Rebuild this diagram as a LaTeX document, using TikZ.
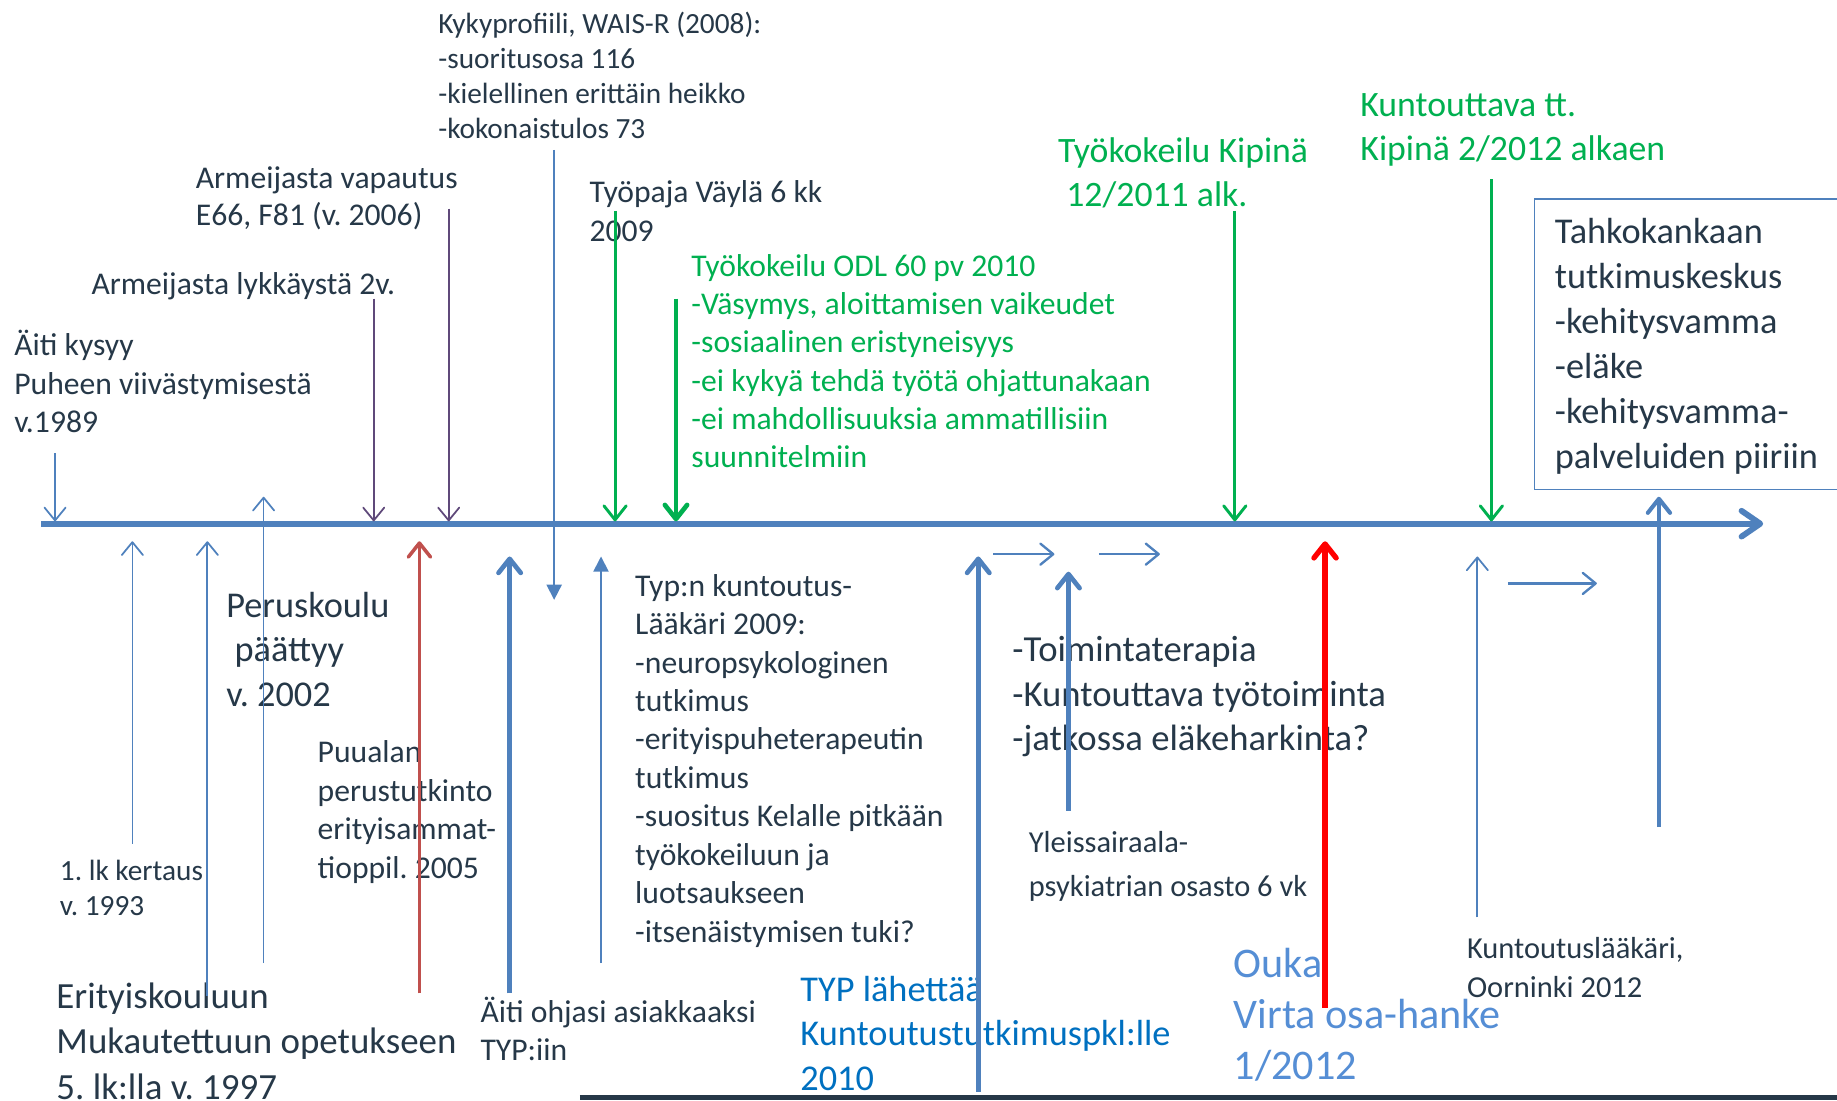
\documentclass[tikz,border=0pt]{standalone}
\usepackage{fontspec}
\setmainfont{Carlito}
\usetikzlibrary{arrows.meta}
\definecolor{darktxt}{RGB}{38,56,72}
\definecolor{lineblue}{RGB}{79,129,189}
\definecolor{kgreen}{RGB}{0,176,80}
\definecolor{darkpurple}{RGB}{95,73,122}
\definecolor{darkred}{RGB}{192,80,77}
\definecolor{typblue}{RGB}{0,112,192}
\definecolor{oukablue}{RGB}{85,142,213}
\frenchspacing

\begin{document}
\begin{tikzpicture}[x=1pt,y=-1pt,
    lbl/.style={anchor=north west,inner sep=0,align=left,text=darktxt},
    fs/.style 2 args={font=\fontsize{#1}{#2}\selectfont},
    thinarr/.style={line width=1.5pt,-{Straight Barb[length=11pt,width=18pt,round]}},
    midarr/.style={line width=2.5pt,-{Straight Barb[length=12pt,width=19pt,round]}},
    thickarr/.style={line width=4pt,-{Straight Barb[length=12pt,width=19pt,round]}},
    triarr/.style={line width=1.5pt,-{Triangle[length=13pt,width=13pt]}}]
        \useasboundingbox (0,0) rectangle (1568,939);
        % time axis
        \draw[lineblue,line width=5pt,-{Straight Barb[length=16pt,width=22pt,round]}] (35,447) -- (1505,447);
        \draw[darktxt,line width=4pt] (495,937) -- (1568,937);
        % labels above the axis
        \node[lbl,fs={25}{30}] (kyky) at (374,10) {Kykyprofiili, WAIS-R (2008):\\-suoritusosa 116\\-kielellinen erittäin heikko\\-kokonaistulos 73};
        \node[lbl,fs={27}{32}] (armvap) at (167,142) {Armeijasta vapautus\\E66, F81 (v. 2006)};
        \node[lbl,fs={27}{32}] (armlyk) at (78,232) {Armeijasta lykkäystä 2v.};
        \node[lbl,fs={27}{32.5}] (aiti) at (12,282) {Äiti kysyy\\Puheen viivästymisestä\\v.1989};
        \node[lbl,fs={27}{33}] (tyopaja) at (503,154) {Työpaja Väylä 6 kk\\2009};
        \node[lbl,fs={27}{32.6},text=kgreen] (odl) at (590,217) {Työkokeilu ODL 60 pv 2010\\-Väsymys, aloittamisen vaikeudet\\-sosiaalinen eristyneisyys\\-ei kykyä tehdä työtä ohjattunakaan\\-ei mahdollisuuksia ammatillisiin\\suunnitelmiin};
        \node[lbl,fs={30.5}{38},text=kgreen] (kipina) at (903,117) {Työkokeilu Kipinä\\\hspace{7pt}12/2011 alk.};
        \node[lbl,fs={30.5}{37.5},text=kgreen] (kuntt) at (1161,80) {Kuntouttava tt.\\Kipinä 2/2012 alkaen};
        \draw[lineblue,line width=1.2pt] (1310,170) rectangle (1580,418);
        \node[lbl,fs={31}{38.5}] (tahko) at (1327,186) {Tahkokankaan\\tutkimuskeskus\\-kehitysvamma\\-eläke\\-kehitysvamma-\\palveluiden piiriin};
        % labels below the axis
        \node[lbl,fs={31}{38}] (perus) at (193,505) {Peruskoulu\\\hspace{7pt}päättyy\\v. 2002};
        \node[lbl,fs={27}{33}] (puu) at (271,632) {Puualan\\perustutkinto\\erityisammat-\\tioppil. 2005};
        \node[lbl,fs={25}{30}] (kertaus) at (51,734) {1. lk kertaus\\v. 1993};
        \node[lbl,fs={31.5}{38.5}] (erit) at (48,839) {Erityiskouluun\\Mukautettuun opetukseen\\5. lk:lla v. 1997};
        \node[lbl,fs={27}{32}] (ohjasi) at (410,851) {Äiti ohjasi asiakkaaksi\\TYP:iin};
        \node[lbl,fs={27}{32.8}] (typn) at (542,490) {Typ:n kuntoutus-\\Lääkäri 2009:\\-neuropsykologinen\\tutkimus\\-erityispuheterapeutin\\tutkimus\\-suositus Kelalle pitkään\\työkokeiluun ja\\luotsaukseen\\-itsenäistymisen tuki?};
        \node[lbl,fs={31}{38},text=typblue] (typlah) at (683,833) {TYP lähettää\\Kuntoutustutkimuspkl:lle\\2010};
        \node[lbl,fs={31.3}{38}] (toim) at (864,543) {-Toimintaterapia\\-Kuntouttava työtoiminta\\-jatkossa eläkeharkinta?};
        \node[lbl,fs={26}{38}] (yleis) at (878,709) {Yleissairaala-\\psykiatrian osasto 6 vk};
        \node[lbl,fs={36}{43.5},text=oukablue] (ouka) at (1053,809) {Ouka\\Virta osa-hanke\\1/2012};
        \node[lbl,fs={26}{33}] (klaak) at (1252,800) {Kuntoutuslääkäri,\\Oorninki 2012};
        % arrows down onto the axis
        \draw[thinarr,lineblue] (47,387) -- (47,445);
        \draw[thinarr,darkpurple] (319,255) -- (319,445);
        \draw[thinarr,darkpurple] (383,178) -- (383,445);
        \draw[triarr,lineblue] (473,128) -- (473,512);
        \draw[midarr,kgreen] (525,180) -- (525,445);
        \draw[thickarr,kgreen] (577,255) -- (577,445);
        \draw[midarr,kgreen] (1054,180) -- (1054,445);
        \draw[midarr,kgreen] (1273,153) -- (1273,445);
        % arrows up to the axis
        \draw[thinarr,lineblue] (113,720) -- (113,462);
        \draw[thinarr,lineblue] (177,850) -- (177,462);
        \draw[thinarr,lineblue] (225,822) -- (225,424);
        \draw[midarr,darkred,line width=3pt] (358,848) -- (358,462);
        \draw[thickarr,lineblue] (435,848) -- (435,475);
        \draw[triarr,lineblue] (513,822) -- (513,475);
        \draw[thickarr,lineblue] (835,932) -- (835,475);
        \draw[thickarr,lineblue] (912,692) -- (912,488);
        \draw[thickarr,red,line width=4.5pt] (1131,860) -- (1131,462);
        \draw[thinarr,lineblue] (1261,783) -- (1261,475);
        \draw[thickarr,lineblue,line width=3.5pt] (1416,706) -- (1416,424);
        % small arrows along the axis
        \draw[thinarr,lineblue,line width=2pt] (848,473) -- (900,473);
        \draw[thinarr,lineblue,line width=2pt] (938,473) -- (990,473);
        \draw[thinarr,lineblue,line width=2pt] (1287,498) -- (1363,498);
\end{tikzpicture}
\end{document}
